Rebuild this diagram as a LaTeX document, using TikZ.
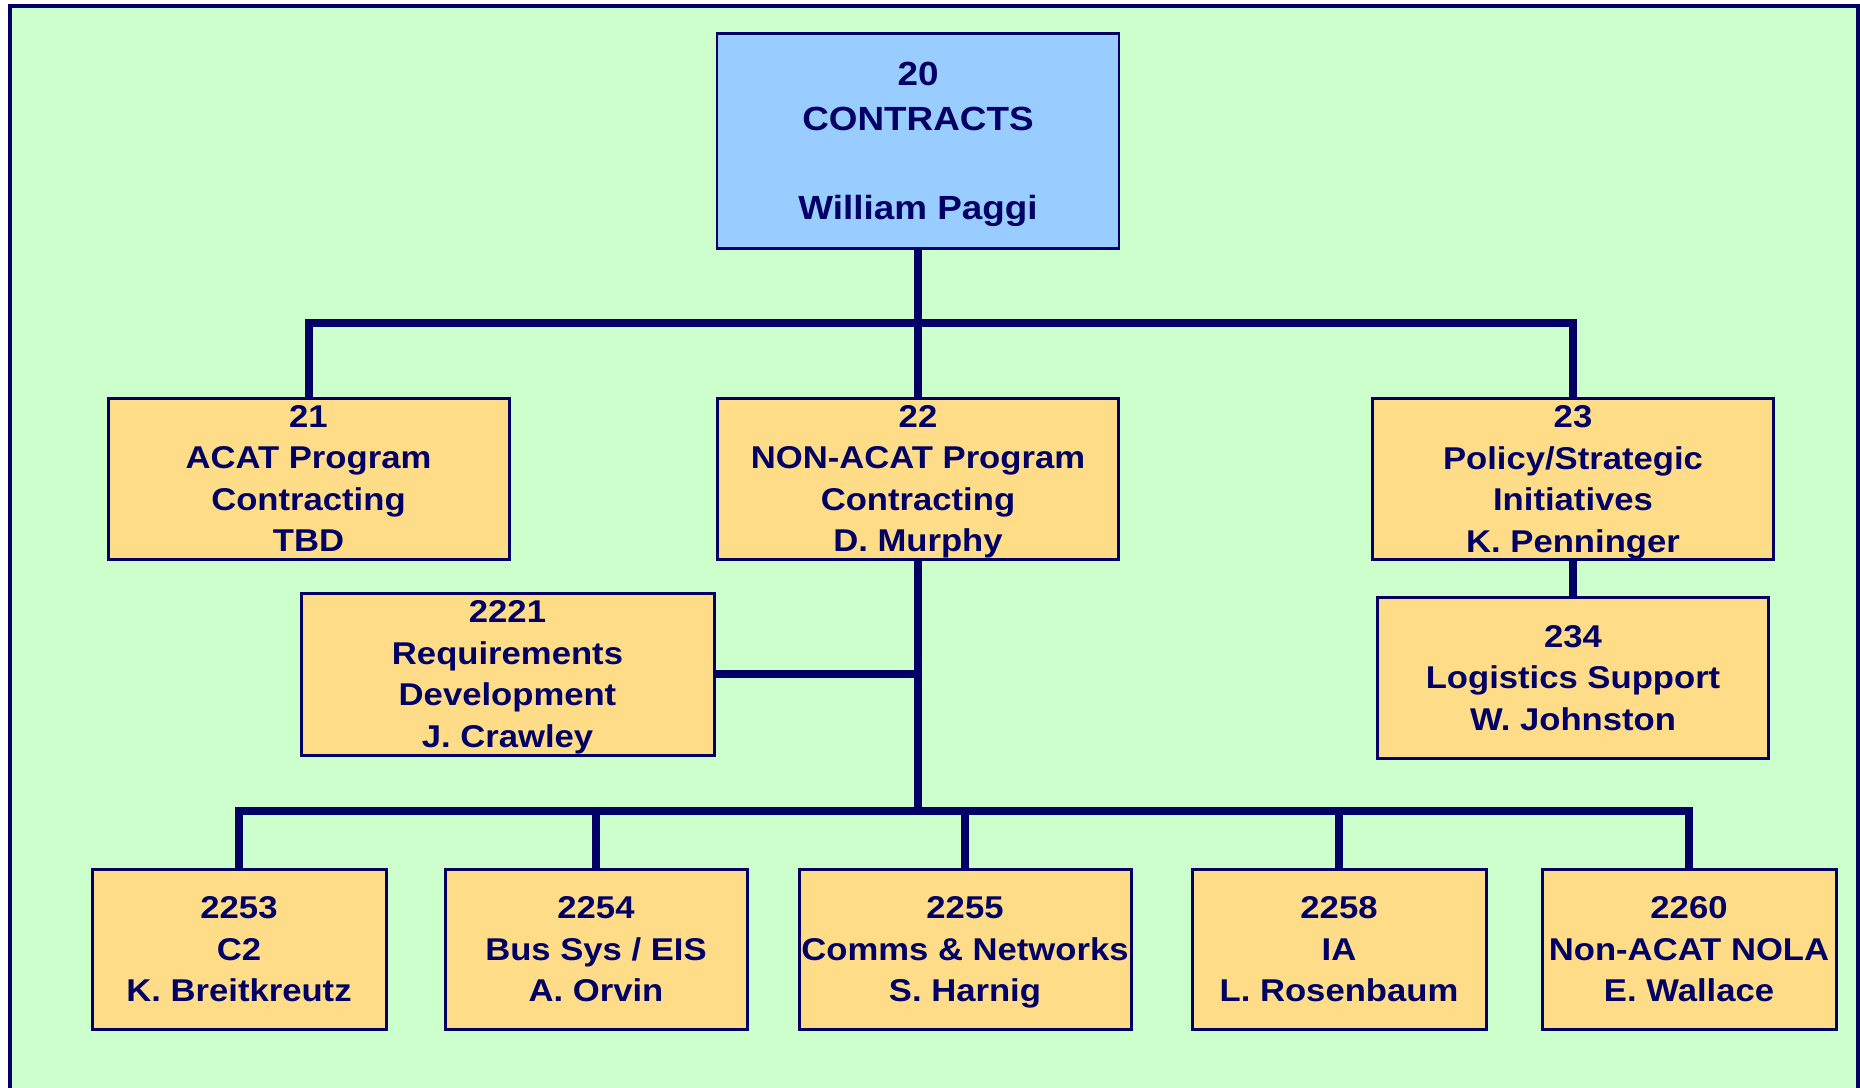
\documentclass[tikz,border=0pt]{standalone}
\usepackage{fontspec}
\setmainfont{Liberation Sans}[FakeStretch=1.1]
\definecolor{navy}{HTML}{000066}
\definecolor{bgreen}{HTML}{CCFFCC}
\definecolor{unitfill}{HTML}{FFDD88}
\definecolor{headfill}{HTML}{99CCFF}
\tikzset{
  unit/.style={draw=navy, line width=3pt, fill=unitfill, inner sep=0pt,
    text depth=0pt, align=center, text=navy,
    font=\fontsize{31.5}{41.5}\selectfont\bfseries},
  head/.style={unit, fill=headfill, line width=2.5pt,
    font=\fontsize{33.5}{44.5}\selectfont\bfseries},
  conn/.style={draw=navy, line width=8pt},
}
\begin{document}
\begin{tikzpicture}[x=1pt,y=-1pt]
\useasboundingbox (0,0) rectangle (1860,1087);
% page frame
\fill[white] (0,0) rectangle (1860,1087);
\draw[navy, line width=4.5pt, fill=bgreen] (10,6) rectangle (1858,1100);

% organisation boxes
\node[head, minimum width=402pt, minimum height=215pt] (b20) at (918,141)
  {20\\CONTRACTS\\[44.5pt]William Paggi};
\node[unit, minimum width=401pt, minimum height=161pt] (b21) at (308.5,478.5)
  {21\\ACAT Program\\Contracting\\TBD};
\node[unit, minimum width=401pt, minimum height=161pt] (b22) at (918,478.5)
  {22\\NON-ACAT Program\\Contracting\\D. Murphy};
\node[unit, minimum width=401pt, minimum height=161pt] (b23) at (1573,479)
  {23\\Policy/Strategic\\Initiatives\\K. Penninger};
\node[unit, minimum width=413pt, minimum height=162pt] (b2221) at (507.5,674)
  {2221\\Requirements\\Development\\J. Crawley};
\node[unit, minimum width=391pt, minimum height=161pt] (b234) at (1573,677.5)
  {234\\Logistics Support\\W. Johnston};
\node[unit, minimum width=294pt, minimum height=160pt] (b2253) at (239,949)
  {2253\\C2\\K. Breitkreutz};
\node[unit, minimum width=302pt, minimum height=160pt] (b2254) at (596,949)
  {2254\\Bus Sys / EIS\\A. Orvin};
\node[unit, minimum width=332pt, minimum height=160pt] (b2255) at (965,949)
  {2255\\Comms \& Networks\\S. Harnig};
\node[unit, minimum width=294pt, minimum height=160pt] (b2258) at (1339,949)
  {2258\\IA\\L. Rosenbaum};
\node[unit, minimum width=294pt, minimum height=160pt] (b2260) at (1689,949)
  {2260\\Non-ACAT NOLA\\E. Wallace};

% junction points of the two buses
\coordinate (j1) at (918,323);
\coordinate (j2) at (918,811);

% connectors
\draw[conn] (b20.south) -- (j1);
\draw[conn] (b21.north) |- (j1) -| (b23.north);
\draw[conn] (j1) -- (b22.north);
\draw[conn] (b22.south) -- (j2);
\draw[conn] (b2221.east) -- (b2221.east -| b22.south);
\draw[conn] (b23.south) -- (b234.north);
\draw[conn] (b2253.north) |- (j2) -| (b2260.north);
\draw[conn] (b2254.north) -- (b2254.north |- j2);
\draw[conn] (b2255.north) -- (b2255.north |- j2);
\draw[conn] (b2258.north) -- (b2258.north |- j2);
\end{tikzpicture}
\end{document}
